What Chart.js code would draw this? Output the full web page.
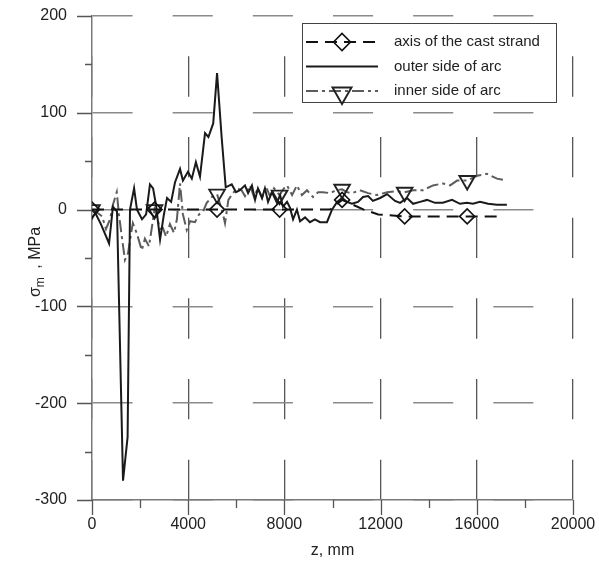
<!DOCTYPE html>
<html>
<head>
<meta charset="utf-8">
<script src="https://cdn.jsdelivr.net/npm/chart.js@4.4.1/dist/chart.umd.min.js"></script>
<style>
  html, body { margin: 0; padding: 0; background: #fff; }
  #wrap { width: 599px; height: 565px; position: relative; }
</style>
</head>
<body>
<div id="wrap"><canvas id="c" width="599" height="565"></canvas></div>
<script>
// Distance along the strand z (mm) and mean stress sigma_m (MPa) for each line
const axisZ = [0, 2600, 5200, 7800, 9900, 10400, 11300, 11900, 13000, 15600, 17100];
const axisStress = [0, 0, 0, 0, 0, 10, 0, -5, -7, -7, -7];

const outerZ = [0,170,370,710,870,1040,1290,1480,1580,1750,1870,2080,2250,2410,2540,2660,2830,2990,3120,3290,
  3450,3660,3780,3990,4150,4320,4490,4700,4840,5040,5200,5390,5560,5810,5990,6150,6360,6490,6650,6780,
  6900,7070,7190,7320,7480,7690,7820,7940,8110,8230,8360,8520,8650,8860,9060,9270,9480,9770,9980,10190,
  10400,10600,10810,11060,11270,11480,11680,11980,12270,12600,12810,13100,13350,13640,13930,14260,14590,14970,15300,15590,
  15840,16130,16470,16840,17250];
const outerStress = [0,-5,-15,-35,3,-2,-280,-235,0,22,0,-10,-5,26,22,5,-31,-5,12,8,
  28,42,30,39,32,49,34,79,75,89,141,75,23,26,18,20,25,17,25,10,
  22,12,22,8,18,7,15,3,8,2,-10,0,-12,-8,-13,-10,-13,-13,0,8,
  12,8,6,8,13,14,9,12,16,9,7,12,6,8,10,7,7,10,6,7,
  6,8,6,5,5];

const innerZ = [0,210,420,580,750,870,1030,1120,1250,1370,1500,1620,1700,1870,2070,2200,2370,2600,2700,2830,
  2950,3080,3240,3410,3530,3660,3780,3940,4080,4280,4450,4620,4770,4980,5200,5320,5450,5530,5670,5860,
  6030,6220,6360,6570,6740,6900,7070,7230,7400,7570,7800,7980,8110,8320,8520,8730,8940,9190,9400,9600,
  9900,10150,10400,10600,10810,11140,11480,11850,12270,12680,13000,13350,13760,14180,14590,14890,15180,15600,16010,16420,
  16840,17250];
const innerStress = [0,-3,-7,-20,-10,5,18,-5,-30,-52,-45,-25,-14,-25,-42,-30,-38,0,-8,-20,
  -19,-28,-15,-24,-10,27,-5,-21,-12,-13,-5,-2,7,13,16,6,-5,-14,10,17,
  22,20,14,25,13,22,12,24,14,22,15,22,25,15,25,15,20,13,18,18,
  17,20,21,18,17,20,17,15,18,19,18,20,20,25,27,25,30,30,35,37,
  32,30];

const seriesNames = ['axis of the cast strand', 'outer side of arc', 'inner side of arc'];
const xLabelValues = [0, 4000, 8000, 12000, 16000, 20000];
const yLabelValues = [-300, -200, -100, 0, 100, 200];
const markerSpacing = 2600;

const FONT = "'Liberation Sans', Arial, Helvetica, sans-serif";
Chart.defaults.font.family = FONT;
Chart.defaults.font.size = 16;
Chart.defaults.color = '#222';

const toPoints = (zs, vs) => zs.map((z, i) => ({ x: z, y: vs[i] }));
const isMarker = ctx => ctx.raw && ctx.raw.x % markerSpacing === 0;

// plot box is 481 x 484 px; grid dashes repeat six times along each axis
const PLOT_W = 481, PLOT_H = 484;
const hDash = PLOT_W / 12, vDash = PLOT_H / 12;

// small and large tick marks on both axes
const tickMarks = {
  id: 'tickMarks',
  afterDraw(chart) {
    const { ctx, chartArea: a, scales: { x, y } } = chart;
    ctx.save();
    ctx.strokeStyle = '#555';
    ctx.lineWidth = 1.3;
    ctx.beginPath();
    y.ticks.forEach(t => {
      const py = Math.round(y.getPixelForValue(t.value)) + 0.5;
      const len = t.value % 100 === 0 ? 15 : 7;
      ctx.moveTo(a.left - len, py); ctx.lineTo(a.left, py);
    });
    x.ticks.forEach(t => {
      const px = Math.round(x.getPixelForValue(t.value)) + 0.5;
      const len = t.value % 4000 === 0 ? 15 : 8;
      ctx.moveTo(px, a.bottom); ctx.lineTo(px, a.bottom + len);
    });
    ctx.stroke();
    ctx.restore();
  }
};

// rotated y title with a subscript
const yTitle = {
  id: 'yTitle',
  afterDraw(chart) {
    const { ctx } = chart;
    ctx.save();
    ctx.translate(40, 262);
    ctx.rotate(-Math.PI / 2);
    ctx.fillStyle = '#222';
    ctx.textBaseline = 'alphabetic';
    const big = '16px ' + FONT, small = '12px ' + FONT;
    const gap = 4;
    ctx.font = big; const w1 = ctx.measureText('σ').width;
    ctx.font = small; const w2 = ctx.measureText('m').width;
    ctx.font = big; const w3 = ctx.measureText(' , MPa').width;
    let sx = -(w1 + w2 + gap + w3) / 2;
    ctx.font = big; ctx.fillText('σ', sx, 0); sx += w1;
    ctx.font = small; ctx.fillText('m', sx, 4); sx += w2 + gap;
    ctx.font = big; ctx.fillText(' , MPa', sx, 0);
    ctx.restore();
  }
};

// boxed legend inside the plot
const boxLegend = {
  id: 'boxLegend',
  afterDatasetsDraw(chart) {
    const { ctx } = chart;
    const bx = 302, by = 23, bw = 254, bh = 79;
    ctx.save();
    ctx.fillStyle = '#fff';
    ctx.fillRect(bx, by, bw, bh);
    ctx.strokeStyle = '#444';
    ctx.lineWidth = 1;
    ctx.strokeRect(bx + 0.5, by + 0.5, bw, bh);
    chart.data.datasets.forEach((ds, i) => {
      const ry = by + 19 + i * 24.5;
      ctx.strokeStyle = ds.borderColor;
      ctx.lineWidth = ds.borderWidth;
      ctx.setLineDash(ds.borderDash || []);
      ctx.beginPath();
      ctx.moveTo(306, ry); ctx.lineTo(378, ry);
      ctx.stroke();
      ctx.setLineDash([]);
      if (ds.pointStyle && ds.legendRadius) {
        ctx.strokeStyle = ds.pointBorderColor;
        ctx.fillStyle = 'rgba(0,0,0,0)';
        ctx.lineWidth = ds.pointBorderWidth;
        Chart.helpers.drawPoint(ctx, {
          pointStyle: ds.pointStyle, radius: ds.legendRadius,
          rotation: ds.pointRotation || 0, borderWidth: ds.pointBorderWidth
        }, 342, ry + (ds.pointRotation ? 2 : 0));
      }
      ctx.fillStyle = '#222';
      ctx.font = '15px ' + FONT;
      ctx.textBaseline = 'middle';
      ctx.fillText(ds.label, 394, ry);
    });
    ctx.restore();
  }
};

new Chart(document.getElementById('c'), {
  type: 'line',
  data: {
    datasets: [
      {
        label: seriesNames[0],
        data: toPoints(axisZ, axisStress),
        borderColor: '#111', borderWidth: 2, borderDash: [12, 7],
        pointStyle: 'rectRot', pointRadius: c => isMarker(c) ? 7.5 : 0, legendRadius: 8.5,
        pointBorderColor: '#111', pointBackgroundColor: 'rgba(0,0,0,0)', pointBorderWidth: 1.6,
        tension: 0, fill: false
      },
      {
        label: seriesNames[1],
        data: toPoints(outerZ, outerStress),
        borderColor: '#1a1a1a', borderWidth: 2,
        pointRadius: 0, tension: 0, fill: false
      },
      {
        label: seriesNames[2],
        data: toPoints(innerZ, innerStress),
        borderColor: '#5c5c5c', borderWidth: 2, borderDash: [12, 4, 3, 4],
        pointStyle: 'triangle', pointRotation: 180, pointRadius: c => isMarker(c) ? 9 : 0, legendRadius: 11,
        pointBorderColor: '#222', pointBackgroundColor: 'rgba(0,0,0,0)', pointBorderWidth: 1.9,
        tension: 0, fill: false
      }
    ]
  },
  options: {
    responsive: false,
    animation: false,
    devicePixelRatio: 1,
    layout: { padding: { left: 0, top: 16, right: 26, bottom: 0 } },
    plugins: { legend: { display: false }, tooltip: { enabled: false } },
    elements: { line: { borderCapStyle: 'butt', borderJoinStyle: 'miter' } },
    scales: {
      x: {
        type: 'linear', min: 0, max: 20000,
        afterFit: s => { s.height = 65; },
        ticks: {
          stepSize: 2000, autoSkip: false, maxRotation: 0, padding: 0, color: '#222', font: { size: 16 },
          callback: v => xLabelValues.includes(v) ? String(v) : ''
        },
        grid: {
          drawTicks: true, tickLength: 15, tickColor: 'rgba(0,0,0,0)', lineWidth: 1.3,
          color: c => (c.tick && c.tick.value % 4000 === 0) ? '#555' : 'rgba(0,0,0,0)'
        },
        border: { display: true, color: '#7a7a7a', width: 1.5, dash: [vDash, vDash], dashOffset: vDash },
        title: { display: true, text: 'z, mm', color: '#222', font: { size: 16 }, padding: { top: 0, bottom: 5 } }
      },
      y: {
        type: 'linear', min: -300, max: 200,
        afterFit: s => { s.width = 92; },
        ticks: {
          stepSize: 50, autoSkip: false, padding: 6, color: '#222', font: { size: 16 },
          callback: v => yLabelValues.includes(v) ? String(v) : ''
        },
        grid: {
          drawTicks: true, tickLength: 19, tickColor: 'rgba(0,0,0,0)', lineWidth: 1.5,
          color: c => (c.tick && c.tick.value % 100 === 0) ? '#8a8a8a' : 'rgba(0,0,0,0)'
        },
        border: { display: true, color: '#7a7a7a', width: 1.5, dash: [hDash, hDash], dashOffset: 0 }
      }
    }
  },
  plugins: [tickMarks, yTitle, boxLegend]
});
</script>
</body>
</html>
